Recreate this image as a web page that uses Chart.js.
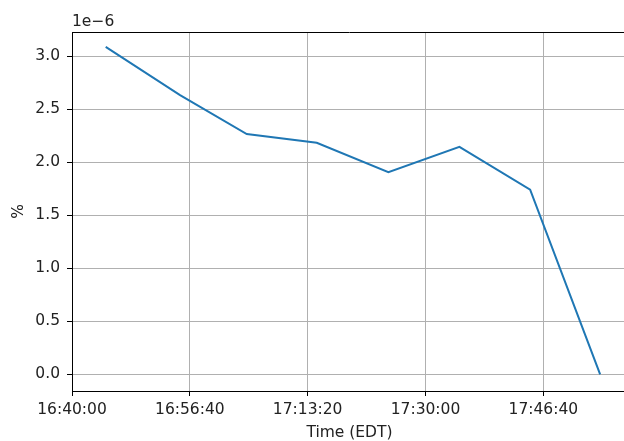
<!DOCTYPE html>
<html>
<head>
<meta charset="utf-8">
<script src="https://cdn.jsdelivr.net/npm/chart.js@4/dist/chart.umd.min.js"></script>
<style>
  html, body { margin: 0; padding: 0; background: #fff; overflow: hidden; }
  #wrap { width: 630px; height: 441px; }
</style>
</head>
<body>
<div id="wrap"><canvas id="chart" width="630" height="441"></canvas></div>
<script>
// sample times (EDT) and the measured share in %
const axisStart = "16:40:00";
const axisEnd = "17:58:30";
const timeLabels = ["16:44:46", "16:55:17", "17:04:43", "17:14:37", "17:24:45", "17:34:48", "17:44:48", "17:54:42"];
const pctValues = [3.09e-6, 2.635e-6, 2.267e-6, 2.185e-6, 1.908e-6, 2.147e-6, 1.742e-6, 0];
const yTickStep = 0.5e-6;
const xTickStepSec = 1000;
const exponentLabel = "1e\u22126";

const FONT = "'DejaVu Sans', sans-serif";
const FSIZE = 15.5;

function toSec(hms) {
  const [h, m, s] = hms.split(":").map(Number);
  return h * 3600 + m * 60 + s;
}
const t0 = toSec(axisStart);

// x runs in minutes after axisStart
const toMin = (hms) => (toSec(hms) - t0) / 60;

function fmtTime(min) {
  const t = Math.round(t0 + min * 60);
  const h = Math.floor(t / 3600);
  const m = Math.floor((t % 3600) / 60);
  const s = t % 60;
  const p = (n) => String(n).padStart(2, "0");
  return `${h}:${p(m)}:${p(s)}`;
}

const points = timeLabels.map((t, i) => ({ x: toMin(t), y: pctValues[i] }));

// top spine + offset text above the y axis
const extras = {
  id: "extras",
  afterDraw(chart) {
    const { ctx, chartArea } = chart;
    ctx.save();
    ctx.strokeStyle = "#000";
    ctx.lineWidth = 1;
    ctx.beginPath();
    ctx.moveTo(chartArea.left, chartArea.top + 0.5);
    ctx.lineTo(chartArea.right, chartArea.top + 0.5);
    ctx.stroke();
    ctx.fillStyle = "#222";
    ctx.font = FSIZE + "px " + FONT;
    ctx.textAlign = "left";
    ctx.textBaseline = "alphabetic";
    ctx.fillText(exponentLabel, chartArea.left, 26);
    ctx.restore();
  },
};

new Chart(document.getElementById("chart"), {
  type: "line",
  data: {
    datasets: [{
      data: points,
      borderColor: "#1f77b4",
      borderWidth: 2,
      pointRadius: 0,
      tension: 0,
      fill: false,
    }],
  },
  options: {
    responsive: false,
    animation: false,
    layout: { padding: { top: 32, right: 3, left: 0, bottom: 0 } },
    plugins: { legend: { display: false }, tooltip: { enabled: false } },
    scales: {
      x: {
        type: "linear",
        min: 0,
        max: toMin(axisEnd),
        afterFit: (s) => { s.height = 50; },
        border: { color: "#000", width: 1 },
        grid: { color: "#b0b0b0", lineWidth: 1, tickLength: 5, tickColor: "#000" },
        ticks: {
          stepSize: xTickStepSec / 60,
          includeBounds: false,
          maxRotation: 0,
          padding: 5,
          color: "#222",
          font: { family: FONT, size: FSIZE },
          callback: (v) => fmtTime(v),
        },
        title: {
          display: true,
          text: "Time (EDT)",
          color: "#222",
          font: { family: FONT, size: FSIZE, lineHeight: 1.1 },
          padding: { top: 0, bottom: 0 },
        },
      },
      y: {
        min: -0.157e-6,
        max: 3.23e-6,
        afterFit: (s) => { s.width = 72; },
        border: { color: "#000", width: 1 },
        grid: { color: "#b0b0b0", lineWidth: 1, tickLength: 5, tickColor: "#000" },
        ticks: {
          stepSize: yTickStep,
          includeBounds: false,
          padding: 7,
          color: "#222",
          font: { family: FONT, size: FSIZE },
          callback: (v) => (v / 1e-6).toFixed(1),
        },
        title: {
          display: true,
          text: "%",
          color: "#222",
          font: { family: FONT, size: FSIZE },
          padding: { top: 10, bottom: 0 },
        },
      },
    },
  },
  plugins: [extras],
});
</script>
</body>
</html>
